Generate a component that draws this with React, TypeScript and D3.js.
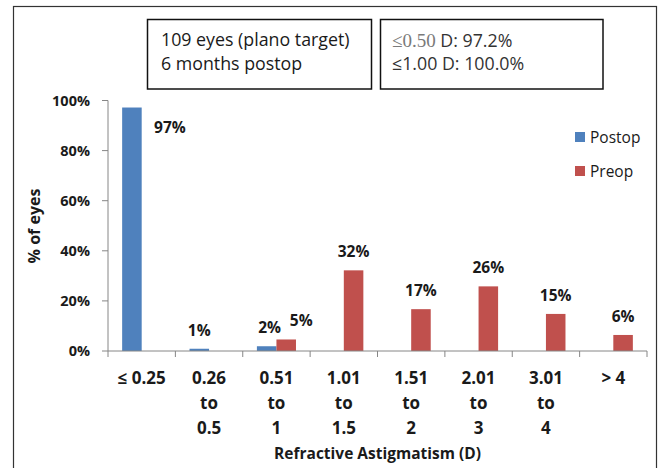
import React from "react";
import * as d3 from "d3";

// Refractive astigmatism bins (multi-line tick labels)
const categories: string[][] = [
  ["≤ 0.25"],
  ["0.26", "to", "0.5"],
  ["0.51", "to", "1"],
  ["1.01", "to", "1.5"],
  ["1.51", "to", "2"],
  ["2.01", "to", "3"],
  ["3.01", "to", "4"],
  ["> 4"],
];

const seriesNames = ["Postop", "Preop"];
// Percent of eyes per bin
const postop = [97.2, 0.9, 1.9, 0, 0, 0, 0, 0];
const preop = [0, 0, 4.6, 32.2, 16.7, 25.8, 14.8, 6.4];

const yTicks = [0, 20, 40, 60, 80, 100];

const W = 659;
const H = 468;
const FONT = "'Open Sans', 'Noto Sans', sans-serif";
const colors: Record<string, string> = { Postop: "#4F81BD", Preop: "#C0504D" };

// Hand-nudged data label placements (dx, dy from default above-bar spot)
const labelNudge: Record<string, [number, number]> = {
  "Postop-0": [38, 38],
  "Postop-2": [3, 0],
  "Preop-2": [15, 0],
};

export default function App() {
  const left = 108;
  const right = 647;
  const top = 100.5;
  const bottom = 351;

  const x = d3
    .scaleBand<number>()
    .domain(categories.map((_, i) => i))
    .range([left, right]);
  const bw = x.bandwidth();
  const x1 = d3
    .scaleBand<string>()
    .domain(seriesNames)
    .range([bw * 0.21, bw * 0.79]);
  const y = d3.scaleLinear().domain([0, 100]).range([bottom, top]);

  const series: { name: string; values: number[] }[] = [
    { name: "Postop", values: postop },
    { name: "Preop", values: preop },
  ];

  const axisColor = "#868686";
  const textColor = "#1a1a1a";

  return (
    <svg width={W} height={H} style={{ position: "absolute", left: 0, top: 0 }}>
      <rect x={0} y={0} width={W} height={H} fill="#fff" />
      {/* outer frame */}
      <rect x={13.5} y={6.5} width={643} height={480} fill="none" stroke="#333" strokeWidth={1.2} />

      {/* annotation boxes */}
      <rect x={147.5} y={19.5} width={224} height={69.5} fill="#fff" stroke="#111" strokeWidth={1.5} />
      <text x={161} y={46} fontFamily={FONT} fontSize={17.8} fill={textColor}>
        109 eyes (plano target)
      </text>
      <text x={161} y={70} fontFamily={FONT} fontSize={17.8} fill={textColor}>
        6 months postop
      </text>
      <rect x={380.5} y={19.5} width={222.5} height={69.5} fill="#fff" stroke="#111" strokeWidth={1.5} />
      <text x={392} y={47} fontFamily={FONT} fontSize={17.8} fill="#333">
        <tspan fontFamily="'Liberation Serif', 'DejaVu Serif', serif" fill="#7a7a7a" fontSize={19}>
          ≤0.50
        </tspan>
        <tspan> D: 97.2%</tspan>
      </text>
      <text x={392} y={70} fontFamily={FONT} fontSize={17.8} fill="#333">
        ≤1.00 D: 100.0%
      </text>

      {/* y axis */}
      <line x1={left} x2={left} y1={top} y2={bottom} stroke={axisColor} strokeWidth={1} />
      {yTicks.map((t) => (
        <g key={t}>
          <line x1={left - 6} x2={left} y1={y(t)} y2={y(t)} stroke={axisColor} />
          <text
            x={90}
            y={y(t) + 5}
            textAnchor="end"
            fontFamily={FONT}
            fontWeight="bold"
            fontSize={14.5}
            fill={textColor}
          >
            {t}%
          </text>
        </g>
      ))}
      <text
        transform={`translate(40,226) rotate(-90)`}
        textAnchor="middle"
        fontFamily={FONT}
        fontWeight="bold"
        fontSize={16}
        fill={textColor}
      >
        % of eyes
      </text>

      {/* bars */}
      {series.map((s) =>
        s.values.map((v, i) =>
          v > 0 ? (
            <rect
              key={`${s.name}-${i}`}
              x={(x(i) as number) + (x1(s.name) as number)}
              y={y(v)}
              width={x1.bandwidth()}
              height={bottom - y(v)}
              fill={colors[s.name]}
            />
          ) : null
        )
      )}

      {/* x axis */}
      <line x1={left} x2={right} y1={bottom} y2={bottom} stroke={axisColor} />
      {d3.range(categories.length + 1).map((k) => {
        const xx = left + k * bw;
        return <line key={k} x1={xx} x2={xx} y1={bottom} y2={bottom + 6} stroke={axisColor} />;
      })}
      {categories.map((lines, i) => (
        <text
          key={i}
          x={(x(i) as number) + bw / 2}
          textAnchor="middle"
          fontFamily={FONT}
          fontWeight="bold"
          fontSize={17}
          fill={textColor}
        >
          {lines.map((ln, j) => (
            <tspan key={j} x={(x(i) as number) + bw / 2} y={383.5 + j * 25}>
              {ln}
            </tspan>
          ))}
        </text>
      ))}
      <text
        x={(left + right) / 2}
        y={459}
        textAnchor="middle"
        fontFamily={FONT}
        fontWeight="bold"
        fontSize={15.5}
        fill={textColor}
      >
        Refractive Astigmatism (D)
      </text>

      {/* data labels */}
      {series.map((s) =>
        s.values.map((v, i) => {
          if (v <= 0) return null;
          const key = `${s.name}-${i}`;
          const [dx, dy] = labelNudge[key] || [0, 0];
          const cx = (x(i) as number) + (x1(s.name) as number) + x1.bandwidth() / 2;
          return (
            <text
              key={key}
              x={cx + dx}
              y={y(v) - 13 + dy}
              textAnchor="middle"
              fontFamily={FONT}
              fontWeight="bold"
              fontSize={15.5}
              fill={textColor}
            >
              {Math.round(v)}%
            </text>
          );
        })
      )}

      {/* legend */}
      {seriesNames.map((n, k) => (
        <g key={n}>
          <rect x={575} y={132 + k * 34} width={10} height={10} fill={colors[n]} />
          <text x={590} y={143 + k * 34} fontFamily={FONT} fontSize={15.5} fill={textColor}>
            {n}
          </text>
        </g>
      ))}
    </svg>
  );
}
